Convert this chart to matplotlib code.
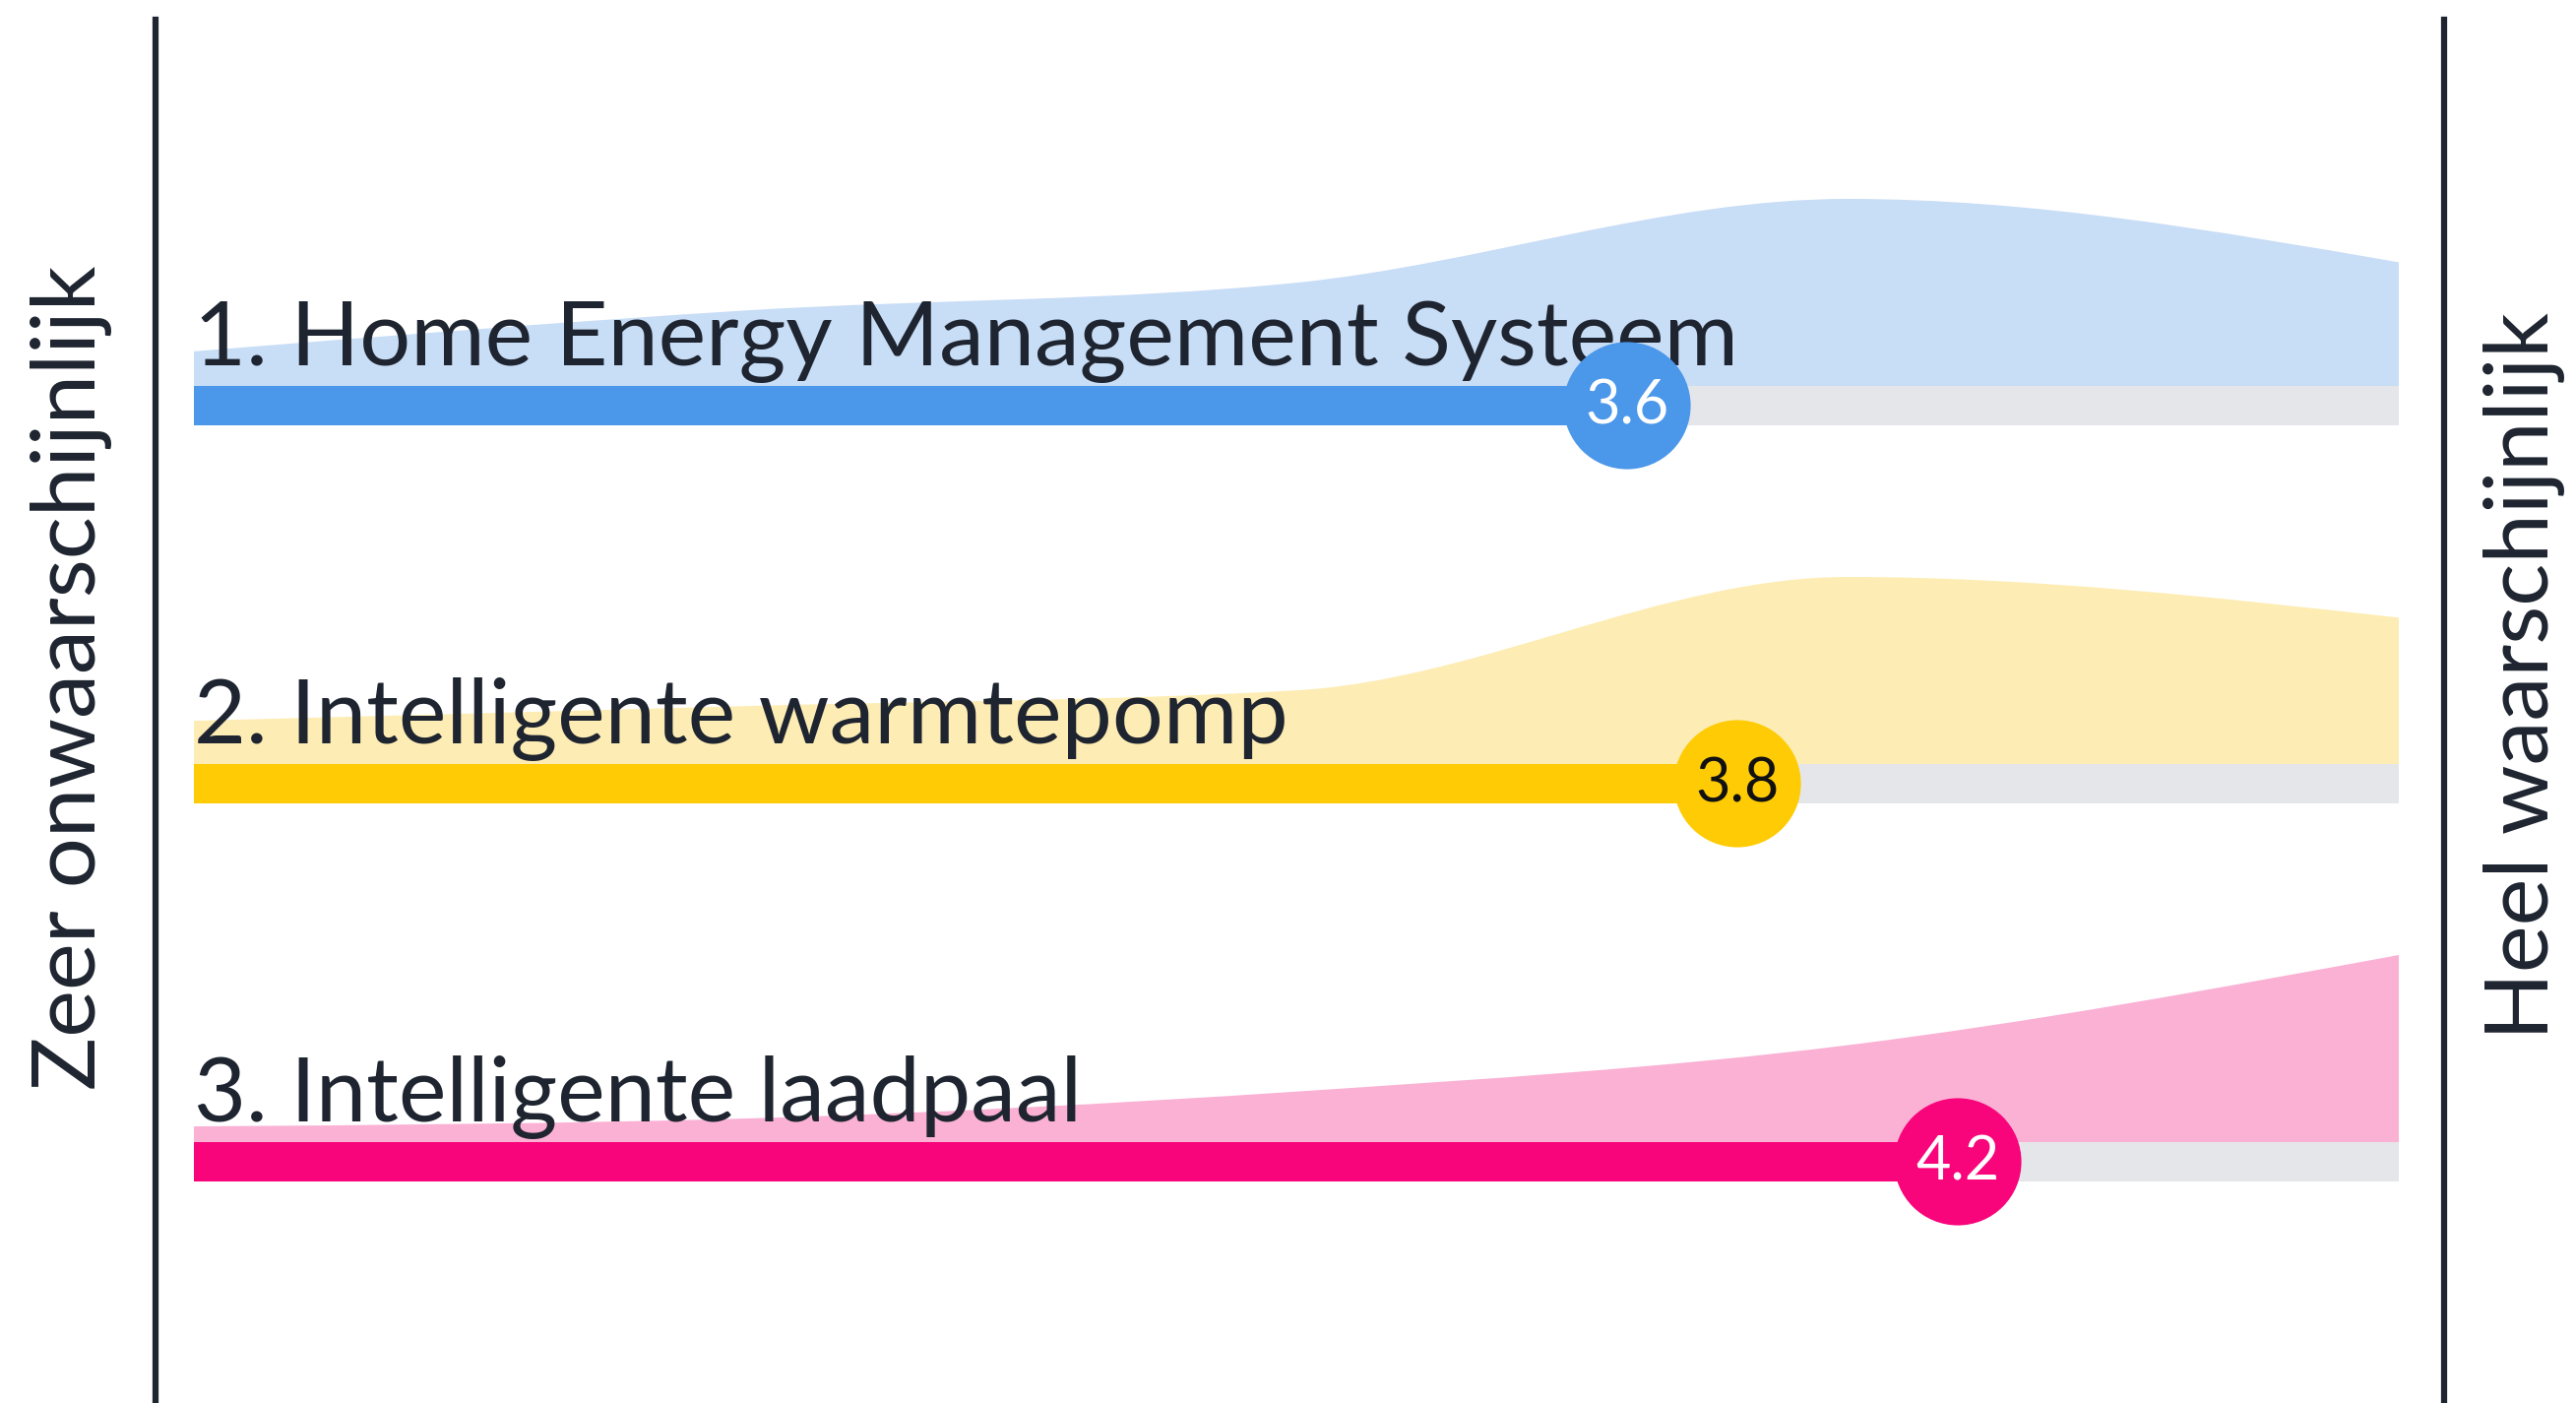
import numpy as np
import matplotlib
matplotlib.use('Agg')
import matplotlib.pyplot as plt
from matplotlib.path import Path
from matplotlib.patches import PathPatch

# Data
items = ['1. Home Energy Management Systeem', '2. Intelligente warmtepomp', '3. Intelligente laadpaal']
scores = [3.6, 3.8, 4.2]
answer_levels = [1, 2, 3, 4, 5]
# share of answers per level (%)
shares_hems = [6.6, 14.4, 19.7, 35.7, 23.6]
shares_heatpump = [8.5, 11.4, 14.5, 36.8, 28.8]
shares_charger = [4.2, 6.3, 13.5, 25.9, 50.0]
shares = [shares_hems, shares_heatpump, shares_charger]
left_label = 'Zeer onwaarschijnlijk'
right_label = 'Heel waarschijnlijk'

bar_colors = ['#4b97ea', '#ffcb05', '#f8047b']
area_colors = ['#c8ddf6', '#fdedb4', '#fab1d4']
number_colors = ['white', '#111111', 'white']
track_color = '#e4e6e9'
ink = '#1f2530'

FONT = 'Lato'

# layout (pixel units on a 2617x1425 canvas)
W, H = 2617, 1425
x0_px, px_per_unit = 197, 560
row_centers = [412, 796, 1180]
bar_h = 40
max_area_h = 190


def monotone_tangents(x, y):
    x = np.asarray(x, float)
    y = np.asarray(y, float)
    h = np.diff(x)
    s = np.diff(y) / h
    m = np.zeros_like(y)
    for k in range(1, len(y) - 1):
        p = (s[k - 1] * h[k] + s[k] * h[k - 1]) / (h[k - 1] + h[k])
        m[k] = (np.sign(s[k - 1]) + np.sign(s[k])) * min(abs(s[k - 1]), abs(s[k]), 0.5 * abs(p))
    m[0] = (3 * s[0] - m[1]) / 2 if len(y) > 2 else s[0]
    m[-1] = (3 * s[-1] - m[-2]) / 2 if len(y) > 2 else s[-1]
    return m


def area_path(x, y, base):
    m = monotone_tangents(x, y)
    verts = [(x[0], base), (x[0], y[0])]
    codes = [Path.MOVETO, Path.LINETO]
    for k in range(len(x) - 1):
        d = (x[k + 1] - x[k]) / 3
        verts += [(x[k] + d, y[k] + m[k] * d), (x[k + 1] - d, y[k + 1] - m[k + 1] * d), (x[k + 1], y[k + 1])]
        codes += [Path.CURVE4] * 3
    verts += [(x[-1], base), (x[0], base)]
    codes += [Path.LINETO, Path.CLOSEPOLY]
    return Path(verts, codes)


fig = plt.figure(figsize=(W / 100, H / 100), dpi=100)
ax = fig.add_axes([0, 0, 1, 1])
ax.set_xlim(1 - x0_px / px_per_unit, 1 + (W - x0_px) / px_per_unit)
ax.set_ylim(H, 0)
ax.axis('off')

lo, hi = answer_levels[0], answer_levels[-1]

for i, item in enumerate(items):
    yc = row_centers[i]
    top = yc - bar_h / 2
    sh = np.array(shares[i])
    heights = top - sh / sh.max() * max_area_h
    ax.add_patch(PathPatch(area_path(answer_levels, heights, top), facecolor=area_colors[i],
                           edgecolor='none', zorder=1))
    ax.barh(yc, hi - lo, left=lo, height=bar_h, color=track_color, zorder=2)
    ax.barh(yc, scores[i] - lo, left=lo, height=bar_h, color=bar_colors[i], zorder=3)
    ax.text(lo, top - 21, item, fontsize=66, family=FONT, color=ink, va='baseline', ha='left', zorder=4)
    ax.scatter([scores[i]], [yc], s=93 ** 2, color=bar_colors[i], edgecolors='none', zorder=5)
    ax.text(scores[i], yc + 1, f'{scores[i]:.1f}', fontsize=44, family=FONT, color=number_colors[i],
            ha='center', va='center', zorder=6)

# side rules and labels
ax.axvline(lo - 39 / px_per_unit, ymin=0, ymax=1 - 20 / H, color=ink, lw=4.5)
ax.axvline(hi + 46 / px_per_unit, ymin=0, ymax=1 - 20 / H, color=ink, lw=4.5)
ax.text(lo - 125 / px_per_unit, 688, left_label, rotation=90, fontsize=65, family=FONT, color=ink,
        ha='center', va='center')
ax.text(hi + 128 / px_per_unit, 686, right_label, rotation=90, fontsize=65, family=FONT, color=ink,
        ha='center', va='center')

fig.savefig('out.png', dpi=100, facecolor='white')
